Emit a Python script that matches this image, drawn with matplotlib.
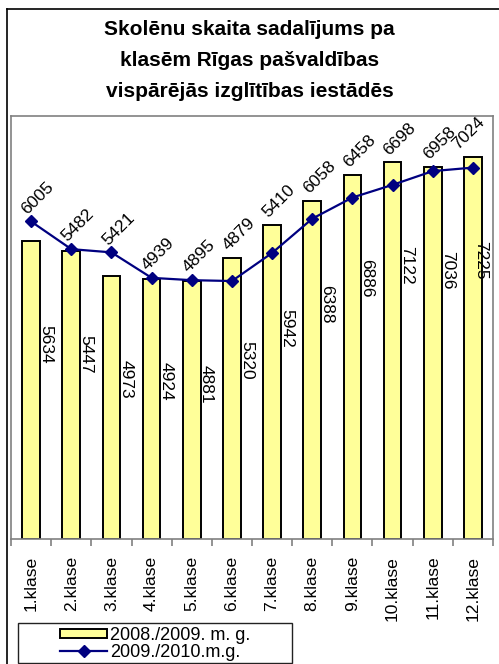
import matplotlib
matplotlib.use("Agg")
import matplotlib.pyplot as plt
from matplotlib.patches import Rectangle
from matplotlib.lines import Line2D
import numpy as np

plt.rcParams['font.family'] = ['Liberation Sans', 'DejaVu Sans']

classes = ['1.klase', '2.klase', '3.klase', '4.klase', '5.klase', '6.klase',
           '7.klase', '8.klase', '9.klase', '10.klase', '11.klase', '12.klase']
vals_0809 = [5634, 5447, 4973, 4924, 4881, 5320, 5942, 6388, 6886, 7122, 7036, 7225]
vals_0910 = [6005, 5482, 5421, 4939, 4895, 4879, 5410, 6058, 6458, 6698, 6958, 7024]
series_names = ['2008./2009. m. g.', '2009./2010.m.g.']
title_lines = ['Skolēnu skaita sadalījums pa',
               'klasēm Rīgas pašvaldības',
               'vispārējās izglītības iestādēs']

W, H = 499, 664
fig = plt.figure(figsize=(W / 100, H / 100), dpi=100)

def fx(px):
    return px / W

def fy(py):
    return 1 - py / H

ax = fig.add_axes([fx(11), fy(539), fx(493) - fx(11), fy(116) - fy(539)])
x = np.arange(len(classes))
last = len(classes) - 1

ax.bar(x, vals_0809, width=0.44, color='#FFFF99', edgecolor='black',
       linewidth=1.4, zorder=2)
ax.plot(x, vals_0910, color='#000080', linewidth=1.6, marker='D',
        markersize=6.5, zorder=3)

ax.set_xlim(-0.5, len(classes) - 0.5)
ax.set_ylim(0, 8000)

# bar labels (rotated, right edge of bars); the last one is pulled in
for xi, v in zip(x, vals_0809):
    dx = 0.2 if xi == last else 0.36
    ax.text(xi + dx, v - 1950, str(v), rotation=270, ha='center',
            va='center', fontsize=12.5, zorder=4)

# line labels (45 deg), kept above both the point and the bar
for xi, v, vb in zip(x, vals_0910, vals_0809):
    dx = -3 if xi == last else 5
    ax.annotate(str(v), (xi, max(v, vb)), xytext=(dx, 17),
                textcoords='offset points', rotation=45, ha='center',
                va='center', fontsize=12.5, zorder=4)

for side in ['left', 'right', 'top', 'bottom']:
    ax.spines[side].set_color('#808080')
    ax.spines[side].set_linewidth(1.2)

ax.set_yticks([])
ax.set_xticks(np.arange(len(classes) + 1) - 0.5, minor=True)
ax.set_xticks(x)
ax.set_xticklabels(classes, rotation=90, fontsize=12.6, va='top')
ax.tick_params(axis='x', which='major', length=0, pad=12)
ax.tick_params(axis='x', which='minor', length=5, width=1.2, color='#808080',
               direction='out')

# title
for i, line in enumerate(title_lines):
    fig.text(0.5, fy(35 + 31 * i), line, ha='center', va='baseline',
             fontsize=15, fontweight='bold')

# outer chart border (left and top only visible)
fig.add_artist(Line2D([fx(7), fx(7)], [0, fy(9)], color='black', linewidth=1.2))
fig.add_artist(Line2D([fx(7), 1], [fy(9), fy(9)], color='black', linewidth=1.2))

# legend box
fig.add_artist(Rectangle((fx(18), fy(663)), fx(292) - fx(18), fy(623) - fy(663),
                         transform=fig.transFigure, fill=False,
                         edgecolor='#222222', linewidth=1.0))
handles = [Rectangle((0, 0), 1, 1, facecolor='#FFFF99', edgecolor='black', linewidth=1.4),
           Line2D([], [], color='#000080', linewidth=1.6, marker='D', markersize=6.5)]
fig.legend(handles, series_names, loc='center',
           bbox_to_anchor=(fx(155), fy(644)), frameon=False, fontsize=13,
           handlelength=2.6, handleheight=0.45, handletextpad=0.15,
           labelspacing=0.0, borderpad=0.0)

fig.savefig('out.png', dpi=100)
